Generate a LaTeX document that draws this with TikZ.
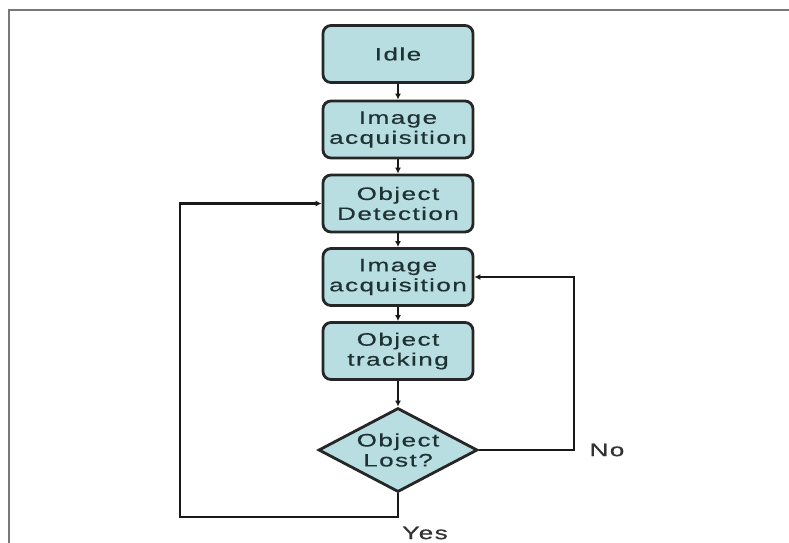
\documentclass[tikz,border=0pt]{standalone}
\usepackage{fontspec}
\usepackage{tikz}
\usetikzlibrary{positioning,shapes.geometric,arrows.meta}

\newfontfamily\chartfont[FakeStretch=1.45,LetterSpace=8,FakeBold=0.5]{Liberation Sans}
\definecolor{stepfill}{RGB}{184,222,226}
\definecolor{steptext}{RGB}{30,50,52}
\definecolor{framegray}{RGB}{120,120,120}

\begin{document}
\begin{tikzpicture}
    [ x = 1pt, y = 1pt
    , stepbox/.style =
      { draw = black!85, fill = stepfill, line width = 2.8pt
      , rounded corners = 8pt, minimum width = 150pt, minimum height = 57pt
      , inner sep = 1pt, align = center, text = steptext
      , font = \chartfont\fontsize{18}{20}\selectfont }
    , decision/.style =
      { draw = black!85, fill = stepfill, line width = 2.8pt
      , diamond, minimum width = 159pt, minimum height = 84pt, inner sep = 0pt }
    , flow/.style =
      { draw = black!90, line width = 2.5pt, -{Latex[length=6pt,width=6pt]} }
    , answer/.style =
      { text = black!80, font = \chartfont\fontsize{18}{20}\selectfont }
    ]
    \useasboundingbox (0,0) rectangle (789,-542);
    \draw [framegray, line width = 1.8pt] (9,-560) -- (9,-10) -- (800,-10);

    \node [stepbox] (idle) at (398,-54) {Idle};
    \node [stepbox] (acq1) at (398,-129.5) {Image\\acquisition};
    \node [stepbox] (detect) at (398,-203.5) {Object\\Detection};
    \node [stepbox] (acq2) at (398,-277) {Image\\acquisition};
    \node [stepbox] (track) at (398,-351) {Object\\tracking};
    \node [decision] (lost) at (398,-450) {};
    \node [align=center, text=steptext, font=\chartfont\fontsize{18}{20}\selectfont]
      (losttext) at (lost) {Object\\Lost?};

    \coordinate (noturn) at (574,-450);
    \coordinate (yesturn) at (180,-517);
    \node [answer] (no) [right=12pt of noturn] {No};
    \node [answer] (yes) at (425,-533) {Yes};

    \draw [flow] (idle) -- (acq1);
    \draw [flow] (acq1) -- (detect);
    \draw [flow] (detect) -- (acq2);
    \draw [flow] (acq2) -- (track);
    \draw [flow] (track) -- (lost);
    \draw [flow] (lost.east) -- (noturn) |- (acq2.east);
    \draw [flow] (lost.south) |- (yesturn) |- (detect.west);
\end{tikzpicture}
\end{document}
